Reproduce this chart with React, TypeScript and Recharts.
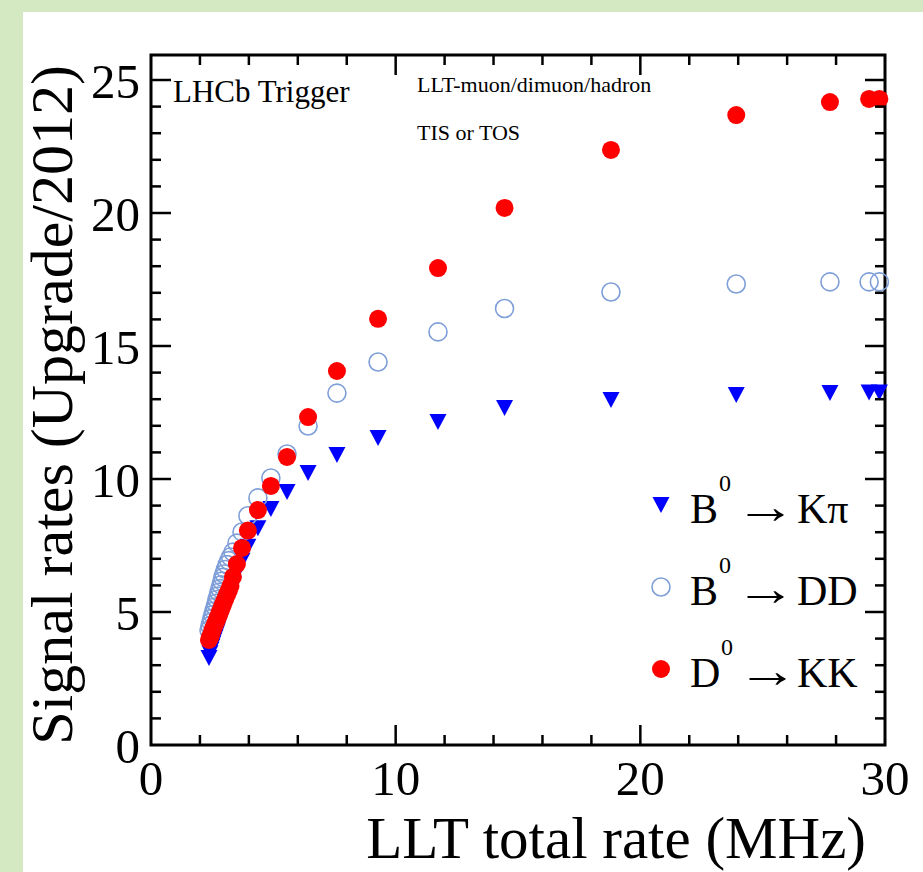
import { ScatterChart, Scatter, XAxis, YAxis, ReferenceArea } from "recharts";

// LLT total rate (MHz) at each threshold setting, shared by all channels
const rates = [
  2.37, 2.41, 2.45, 2.49, 2.53, 2.57, 2.62, 2.66, 2.7, 2.74, 2.78, 2.82, 2.86,
  2.9, 2.94, 2.98, 3.04, 3.11, 3.18, 3.25, 3.35, 3.51, 3.72, 3.96, 4.37, 4.9,
  5.56, 6.42, 7.6, 9.28, 11.73, 14.45, 18.8, 23.92, 27.75, 29.35, 29.77,
];

// signal rate ratio Upgrade/2012
const kpiRatio = [
  3.27, 3.45, 3.58, 3.7, 3.82, 3.93, 4.05, 4.16, 4.27, 4.38, 4.5, 4.62, 4.75,
  4.89, 5.02, 5.15, 5.3, 5.46, 5.62, 5.8, 6.09, 6.47, 6.93, 7.45, 8.15, 8.87,
  9.51, 10.23, 10.9, 11.54, 12.14, 12.67, 12.97, 13.16, 13.23, 13.25, 13.25,
];
const ddRatio = [
  4.32, 4.48, 4.62, 4.76, 4.9, 5.04, 5.19, 5.33, 5.47, 5.6, 5.74, 5.88, 6.02,
  6.16, 6.3, 6.43, 6.6, 6.78, 6.93, 7.07, 7.25, 7.59, 8.01, 8.62, 9.29, 10.04,
  10.94, 11.99, 13.23, 14.4, 15.53, 16.41, 17.03, 17.33, 17.41, 17.41, 17.41,
];
const kkRatio = [
  3.95, 4.05, 4.12, 4.25, 4.35, 4.44, 4.55, 4.63, 4.72, 4.81, 4.9, 5.0, 5.09,
  5.19, 5.28, 5.38, 5.5, 5.66, 5.8, 5.98, 6.32, 6.8, 7.41, 8.06, 8.83, 9.74,
  10.83, 12.33, 14.06, 16.02, 17.93, 20.19, 22.37, 23.68, 24.17, 24.29, 24.29,
];

const xTicks = [0, 2, 4, 6, 8, 10, 12, 14, 16, 18, 20, 22, 24, 26, 28, 30];
const yTicks = [
  0, 1, 2, 3, 4, 5, 6, 7, 8, 9, 10, 11, 12, 13, 14, 15, 16, 17, 18, 19, 20, 21,
  22, 23, 24, 25,
];
const xMax = 30;
const yMax = 25.94;

const serif = { fontFamily: "Liberation Serif" };
const PLOT = { left: 151, right: 885, top: 55, bottom: 745 };

const toPoints = (ys: number[]) => rates.map((x, i) => ({ x, y: ys[i] }));
const kpiData = toPoints(kpiRatio);
const ddData = toPoints(ddRatio);
const kkData = toPoints(kkRatio);

function XTick(props: any) {
  const { x, payload } = props;
  const v = payload.value;
  const major = v % 10 === 0;
  const len = major ? 20 : 10;
  const inner = v > 0 && v < xMax;
  return (
    <g>
      {inner && (
        <line x1={x} x2={x} y1={PLOT.bottom} y2={PLOT.bottom - len} stroke="#000" strokeWidth={2.5} />
      )}
      {inner && (
        <line x1={x} x2={x} y1={PLOT.top} y2={PLOT.top + len} stroke="#000" strokeWidth={2.5} />
      )}
      {major && (
        <text x={x} y={795} textAnchor="middle" fontSize={49} style={serif} fill="#000">
          {v}
        </text>
      )}
    </g>
  );
}

function YTick(props: any) {
  const { y, payload } = props;
  const v = payload.value;
  const major = v % 5 === 0;
  const len = major ? 20 : 10;
  return (
    <g>
      {v > 0 && (
        <line x1={PLOT.left} x2={PLOT.left + len} y1={y} y2={y} stroke="#000" strokeWidth={2.5} />
      )}
      {v > 0 && (
        <line x1={PLOT.right} x2={PLOT.right - len} y1={y} y2={y} stroke="#000" strokeWidth={2.5} />
      )}
      {major && (
        <text x={140} y={y + 18} textAnchor="end" fontSize={49} style={serif} fill="#000">
          {v}
        </text>
      )}
    </g>
  );
}

const DownTriangle = (props: any) => {
  const { cx, cy } = props;
  return (
    <polygon
      points={`${cx - 8.5},${cy - 8} ${cx + 8.5},${cy - 8} ${cx},${cy + 8}`}
      fill="#0000ff"
    />
  );
};
const OpenCircle = (props: any) => (
  <circle cx={props.cx} cy={props.cy} r={9} fill="none" stroke="#7f9fd9" strokeWidth={1.6} />
);
const FullCircle = (props: any) => (
  <circle cx={props.cx} cy={props.cy} r={9} fill="#ff0000" />
);

const legendItems = [
  { particle: "B", decay: "Kπ", marker: "tri" },
  { particle: "B", decay: "DD", marker: "open" },
  { particle: "D", decay: "KK", marker: "full" },
];

export default function App() {
  return (
    <div
      style={{
        position: "absolute",
        left: 0,
        top: 0,
        width: 923,
        height: 872,
        background: "#d4e8c2",
        overflow: "hidden",
      }}
    >
      <div style={{ position: "absolute", left: 23, top: 12, width: 900, height: 860, background: "#fff" }} />
      <div style={{ position: "absolute", left: 0, top: 0 }}>
        <ScatterChart
          width={923}
          height={872}
          margin={{ top: 55, right: 38, bottom: 87, left: 91 }}
        >
          <XAxis
            dataKey="x"
            type="number"
            domain={[0, xMax]}
            ticks={xTicks}
            interval={0}
            height={40}
            tickLine={false}
            axisLine={false}
            tick={XTick}
          />
          <YAxis
            dataKey="y"
            type="number"
            domain={[0, yMax]}
            ticks={yTicks}
            interval={0}
            width={60}
            tickLine={false}
            axisLine={false}
            tick={YTick}
          />
          <ReferenceArea
            x1={0}
            x2={xMax}
            y1={0}
            y2={yMax}
            fill="none"
            fillOpacity={0}
            stroke="#000"
            strokeWidth={3}
          />
          <Scatter name="B0 -> Kpi" data={kpiData} shape={DownTriangle} isAnimationActive={false} />
          <Scatter name="B0 -> DD" data={ddData} shape={OpenCircle} isAnimationActive={false} />
          <Scatter name="D0 -> KK" data={kkData} shape={FullCircle} isAnimationActive={false} />
        </ScatterChart>
      </div>
      <svg
        width={923}
        height={872}
        style={{ position: "absolute", left: 0, top: 0, pointerEvents: "none" }}
      >
        <text x={173} y={102} fontSize={31} style={serif}>LHCb Trigger</text>
        <text x={417} y={92} fontSize={22} style={serif}>LLT-muon/dimuon/hadron</text>
        <text x={417} y={140} fontSize={22} style={serif}>TIS or TOS</text>

        <text x={866} y={858} fontSize={59} textAnchor="end" style={serif}>
          LLT total rate (MHz)
        </text>
        <text
          transform="translate(72,65) rotate(-90)"
          x={0}
          y={0}
          fontSize={60}
          textAnchor="end"
          style={serif}
        >
          Signal rates (Upgrade/2012)
        </text>

        {legendItems.map((item, i) => {
          const cy = 505 + i * 82;
          const base = cy + 18;
          return (
            <g key={i}>
              {item.marker === "tri" && <DownTriangle cx={661} cy={cy} />}
              {item.marker === "open" && <OpenCircle cx={661} cy={cy} />}
              {item.marker === "full" && <FullCircle cx={661} cy={cy} />}
              <text x={690} y={base} fontSize={42} style={serif}>{item.particle}</text>
              <text x={item.particle === "D" ? 721 : 719} y={base - 32} fontSize={24} style={serif}>0</text>
              <text
                transform={`translate(${item.particle === "D" ? 737 : 735},${base}) scale(1.45,1.15)`}
                x={0}
                y={0}
                fontSize={42}
                style={serif}
              >
                →
              </text>
              <text x={797} y={base} fontSize={42} style={serif}>{item.decay}</text>
            </g>
          );
        })}
      </svg>
    </div>
  );
}
